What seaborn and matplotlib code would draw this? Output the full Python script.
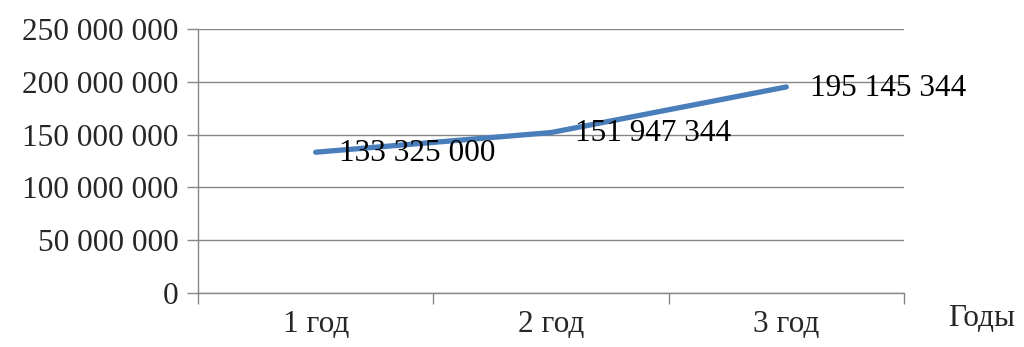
import pandas as pd
import numpy as np
import matplotlib.pyplot as plt
import seaborn as sns

years = ['1 год', '2 год', '3 год']
values = [133325000, 151947344, 195145344]
value_labels = ['133 325 000', '151 947 344', '195 145 344']
y_ticks = [0, 50000000, 100000000, 150000000, 200000000, 250000000]

sns.set_style('white')
plt.rcParams['font.family'] = ['Liberation Serif', 'DejaVu Serif']
fs = 22.5

df = pd.DataFrame({'year': years, 'value': values})
pos = np.arange(len(years))

fig = plt.figure(figsize=(10.24, 3.47), dpi=100)
ax = fig.add_axes([0.1934, 0.1556, 0.6894, 0.7608])

sns.lineplot(x=pos, y=df['value'], ax=ax, color='#4A7EBB', linewidth=3.8,
             sort=False)

for x, v, lab in zip(pos, values, value_labels):
    ax.annotate(lab, (x, v), xytext=(17, -1), textcoords='offset points',
                ha='left', va='center', fontsize=fs, color='black')

ax.set_xlim(-0.5, 2.5)
ax.set_ylim(0, 250000000)
ax.set_yticks(y_ticks)
ax.set_yticklabels([f'{t:,}'.replace(',', ' ') for t in y_ticks], fontsize=fs)
ax.yaxis.grid(True, color='#868686', linewidth=1)
ax.set_axisbelow(True)

# category labels in the middle, ticks on the borders
ax.set_xticks(pos)
ax.set_xticklabels(years, fontsize=fs)
ax.set_xticks([-0.5, 0.5, 1.5, 2.5], minor=True)
ax.tick_params(axis='x', which='major', length=0, pad=12)
ax.tick_params(axis='x', which='minor', length=8, color='#868686', width=1,
               direction='out', bottom=True)
ax.tick_params(axis='y', length=8, color='#868686', width=1, direction='out',
               left=True, pad=6)

for s in ['top', 'right']:
    ax.spines[s].set_visible(False)
for s in ['left', 'bottom']:
    ax.spines[s].set_color('#868686')
    ax.spines[s].set_linewidth(1)

ax.set_xlabel('')
ax.set_ylabel('')
fig.text(0.926, 0.083, 'Годы', fontsize=fs, ha='left', va='center')

fig.savefig('out.png', dpi=100)
